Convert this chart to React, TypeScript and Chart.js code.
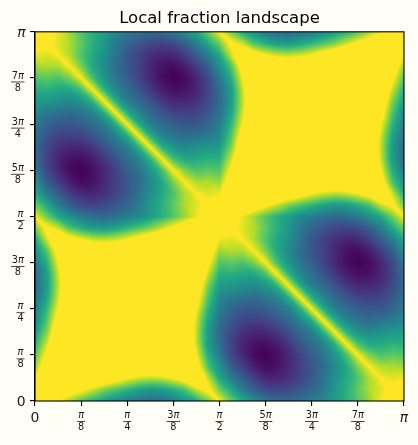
import React, { useEffect, useRef } from "react";
import { Chart, registerables } from "chart.js";

Chart.register(...registerables);

const PI = Math.PI;
const tickFractions = [
  ["0", ""], ["π", "8"], ["π", "4"], ["3π", "8"], ["π", "2"],
  ["5π", "8"], ["3π", "4"], ["7π", "8"], ["π", ""],
];
const tickValues = [0, PI / 8, PI / 4, (3 * PI) / 8, PI / 2, (5 * PI) / 8, (3 * PI) / 4, (7 * PI) / 8, PI];

// estimated values, rows run upward from y = 0 to y = pi/2, columns x = 0 to pi/2 (step pi/32).
// Anything at 1 or above shows as the top colour; larger numbers mean further inside the flat yellow area.
const lowerLeftRows = [
  [1.2, 1.1, .97, .85, .73, .63, .55, .47, .42, .37, .34, .36, .41, .50, .60, .78, 1],
  [1.1, 1.3, 1.3, 1.15, 1.04, .92, .80, .72, .65, .58, .54, .55, .62, .72, .92, 1.05, .78],
  [.97, 1.3, 1.6, 1.55, 1.44, 1.32, 1.2, 1.1, 1.0, .93, .90, .92, 1.0, 1.1, 1.2, .92, .60],
  [.85, 1.15, 1.55, 1.9, 1.85, 1.75, 1.65, 1.5, 1.4, 1.33, 1.3, 1.32, 1.4, 1.5, 1.1, .72, .50],
  [.73, 1.04, 1.44, 1.85, 2, 2, 2, 2, 2, 2, 2, 2, 2, 1.4, 1.0, .62, .41],
  [.63, .92, 1.32, 1.75, 2, 2, 2, 2, 2, 2, 2, 2, 2, 1.32, .92, .55, .36],
  [.55, .80, 1.2, 1.65, 2, 2, 2, 2, 2, 2, 2, 2, 2, 1.3, .90, .54, .34],
  [.47, .72, 1.1, 1.5, 2, 2, 2, 2, 2, 2, 2, 2, 2, 1.33, .93, .58, .37],
  [.42, .65, 1.0, 1.4, 2, 2, 2, 2, 2, 2, 2, 2, 2, 1.4, 1.0, .65, .42],
  [.37, .58, .93, 1.33, 2, 2, 2, 2, 2, 2, 2, 2, 2, 1.5, 1.1, .72, .47],
  [.34, .54, .90, 1.3, 2, 2, 2, 2, 2, 2, 2, 2, 2, 1.65, 1.2, .80, .55],
  [.36, .55, .92, 1.32, 2, 2, 2, 2, 2, 2, 2, 2, 2, 1.75, 1.32, .92, .63],
  [.41, .62, 1.0, 1.4, 2, 2, 2, 2, 2, 2, 2, 2, 2, 1.85, 1.44, 1.04, .73],
  [.50, .72, 1.1, 1.5, 1.4, 1.32, 1.3, 1.33, 1.4, 1.5, 1.65, 1.75, 1.85, 1.9, 1.55, 1.15, .85],
  [.60, .92, 1.2, 1.1, 1.0, .92, .90, .93, 1.0, 1.1, 1.2, 1.32, 1.44, 1.55, 1.6, 1.3, .97],
  [.78, 1.05, .92, .72, .62, .55, .54, .58, .65, .72, .80, .92, 1.04, 1.15, 1.3, 1.3, 1.1],
  [1, .78, .60, .50, .41, .36, .34, .37, .42, .47, .55, .63, .73, .85, .97, 1.1, 1.2],
];

// estimated values, rows run upward from y = pi/2 to y = pi, columns x = 0 to pi/2
const upperLeftRows = [
  [1, .78, .60, .50, .41, .36, .34, .37, .42, .47, .55, .63, .73, .85, .97, 1.1, 1.2],
  [.78, .60, .42, .30, .22, .20, .22, .27, .33, .41, .53, .63, .75, .88, .95, 1.05, 1.1],
  [.60, .42, .30, .18, .11, .10, .14, .20, .27, .38, .50, .60, .72, .88, 1, .95, .97],
  [.50, .30, .18, .08, .03, .05, .11, .19, .27, .35, .47, .60, .80, 1, .88, .88, .85],
  [.41, .22, .11, .03, 0, .04, .11, .20, .30, .39, .52, .70, 1, .80, .72, .75, .73],
  [.36, .20, .10, .05, .04, .08, .16, .26, .36, .45, .65, 1, .70, .60, .60, .63, .63],
  [.34, .22, .14, .11, .11, .16, .25, .34, .43, .63, 1, .65, .52, .47, .50, .53, .55],
  [.37, .27, .20, .19, .20, .26, .34, .45, .62, 1, .63, .45, .39, .35, .38, .41, .47],
  [.42, .33, .27, .27, .30, .36, .43, .62, 1, .62, .43, .36, .30, .27, .27, .33, .42],
  [.47, .41, .38, .35, .39, .45, .63, 1, .62, .45, .34, .26, .20, .19, .20, .27, .37],
  [.55, .53, .50, .47, .52, .65, 1, .63, .43, .34, .25, .16, .11, .11, .14, .22, .34],
  [.63, .63, .60, .60, .70, 1, .65, .45, .36, .26, .16, .08, .04, .05, .10, .20, .36],
  [.73, .75, .72, .80, 1, .70, .52, .39, .30, .20, .11, .04, 0, .03, .11, .22, .41],
  [.85, .88, .88, 1, .80, .60, .47, .35, .27, .19, .11, .05, .03, .08, .18, .30, .50],
  [.97, .95, 1, .88, .72, .60, .50, .38, .27, .20, .14, .10, .11, .18, .30, .42, .60],
  [1.1, 1.05, .95, .88, .75, .63, .53, .41, .33, .27, .22, .20, .22, .30, .42, .60, .78],
  [1.2, 1.1, .97, .85, .73, .63, .55, .47, .42, .37, .34, .36, .41, .50, .60, .78, 1],
];

const viridisStops = [
  [68, 1, 84], [72, 36, 117], [65, 68, 135], [53, 95, 141], [42, 120, 142], [33, 145, 140],
  [34, 168, 132], [68, 191, 112], [122, 209, 81], [189, 223, 38], [253, 231, 37],
];

const NODES = 33;
const nodeValue = (i: number, j: number): number => {
  if (i <= 16) return j <= 16 ? lowerLeftRows[j][i] : upperLeftRows[j - 16][i];
  return j <= 16 ? upperLeftRows[j][i - 16] : lowerLeftRows[j - 16][i - 16];
};
const nodes: { x: number; y: number; v: number }[] = [];
for (let j = 0; j < NODES; j++) {
  for (let i = 0; i < NODES; i++) {
    nodes.push({ x: (i * PI) / 32, y: (j * PI) / 32, v: nodeValue(i, j) });
  }
}

const colour = (v: number): number[] => {
  const t = Math.max(0, Math.min(1, v)) * 10;
  const k = Math.min(9, Math.floor(t));
  const f = t - k;
  return viridisStops[k].map((c, n) => c + (viridisStops[k + 1][n] - c) * f);
};

const heatPlugin = {
  id: "heat",
  beforeDatasetsDraw(chart: any) {
    const { ctx, chartArea: a, scales } = chart;
    const data = chart.data.datasets[0].data;
    const w = Math.round(a.right - a.left);
    const h = Math.round(a.bottom - a.top);
    const off = document.createElement("canvas");
    off.width = w;
    off.height = h;
    const oc = off.getContext("2d") as CanvasRenderingContext2D;
    const img = oc.createImageData(w, h);
    const step = PI / 32;
    for (let py = 0; py < h; py++) {
      const gy = scales.y.getValueForPixel(a.top + py + 0.5) / step;
      const j = Math.max(0, Math.min(NODES - 2, Math.floor(gy)));
      const fy = gy - j;
      for (let px = 0; px < w; px++) {
        const gx = scales.x.getValueForPixel(a.left + px + 0.5) / step;
        const i = Math.max(0, Math.min(NODES - 2, Math.floor(gx)));
        const fx = gx - i;
        const z00 = data[j * NODES + i].v;
        const z10 = data[j * NODES + i + 1].v;
        const z01 = data[(j + 1) * NODES + i].v;
        const z11 = data[(j + 1) * NODES + i + 1].v;
        const v = fx + fy < 1
          ? z00 + fx * (z10 - z00) + fy * (z01 - z00)
          : z11 + (1 - fx) * (z01 - z11) + (1 - fy) * (z10 - z11);
        const c = colour(v);
        const o = (py * w + px) * 4;
        img.data[o] = c[0];
        img.data[o + 1] = c[1];
        img.data[o + 2] = c[2];
        img.data[o + 3] = 255;
      }
    }
    oc.putImageData(img, 0, 0);
    ctx.drawImage(off, a.left, a.top, a.right - a.left, a.bottom - a.top);
  },
  afterDraw(chart: any) {
    const { ctx, chartArea: a, scales } = chart;
    ctx.save();
    ctx.strokeStyle = "#000";
    ctx.lineWidth = 1.1;
    ctx.strokeRect(a.left, a.top, a.right - a.left, a.bottom - a.top);
    ctx.fillStyle = "#1a1a1a";
    ctx.textBaseline = "middle";
    const big = "13.9px 'DejaVu Sans'";
    const bigItalic = "italic 13.9px 'DejaVu Sans'";
    const small = "9.8px 'DejaVu Sans'";
    const drawNum = (text: string, x: number, y: number) => {
      const plain = text.replace("π", "");
      ctx.font = small;
      const wa = ctx.measureText(plain).width;
      ctx.font = "italic 9.8px 'DejaVu Sans'";
      const wb = text.includes("π") ? ctx.measureText("π").width : 0;
      let sx = x - (wa + wb) / 2;
      ctx.textAlign = "left";
      ctx.font = small;
      if (plain) ctx.fillText(plain, sx, y);
      sx += wa;
      if (wb) {
        ctx.font = "italic 9.8px 'DejaVu Sans'";
        ctx.fillText("π", sx, y);
      }
    };
    tickFractions.forEach(([top, bottom], n) => {
      const px = scales.x.getPixelForValue(tickValues[n]);
      const py = scales.y.getPixelForValue(tickValues[n]);
      if (!bottom) {
        ctx.textAlign = "center";
        ctx.font = top === "π" ? bigItalic : big;
        ctx.fillText(top, px, 418);
        ctx.textAlign = "right";
        ctx.fillText(top, 25.5, py + (top === "π" ? 2 : 1));
        return;
      }
      ctx.font = small;
      const barW = top.length > 1 ? 13.5 : 8;
      drawNum(top, px, 415.5);
      ctx.textAlign = "center";
      ctx.font = small;
      ctx.fillText(bottom, px, 427.5);
      ctx.fillRect(px - barW / 2, 421, barW, 0.8);
      const cx = 24.5 - barW / 2;
      drawNum(top, cx, py - 2);
      ctx.textAlign = "center";
      ctx.font = small;
      ctx.fillText(bottom, cx, py + 10);
      ctx.fillRect(24.5 - barW, py + 3.6, barW, 0.8);
    });
    ctx.restore();
  },
};

const PAGE_BG = "#fffff8";

export default function App() {
  const ref = useRef<HTMLCanvasElement | null>(null);
  useEffect(() => {
    document.body.style.margin = "0";
    document.body.style.background = PAGE_BG;
    const chart = new Chart(ref.current as HTMLCanvasElement, {
      type: "scatter",
      data: { datasets: [{ data: nodes, pointRadius: 0, showLine: false }] },
      options: {
        responsive: false,
        animation: false,
        devicePixelRatio: 1,
        layout: { padding: { left: 0, right: 14, top: 0, bottom: 0 } },
        plugins: {
          legend: { display: false },
          tooltip: { enabled: false },
          title: {
            display: true,
            text: "Local fraction landscape",
            color: "#000",
            fullSize: false,
            font: { family: "'DejaVu Sans'", size: 16.5, weight: "normal" },
            padding: { top: 9, bottom: 3 },
          },
        },
        scales: {
          x: {
            type: "linear",
            min: 0,
            max: PI,
            afterBuildTicks: (s: any) => { s.ticks = tickValues.map((value) => ({ value })); },
            afterFit: (s: any) => { s.height = 44; },
            ticks: { callback: () => "", autoSkip: false, maxRotation: 0 },
            grid: { drawOnChartArea: false, drawTicks: true, tickLength: 5, color: "#000", lineWidth: 1.1 },
            border: { color: "#000", width: 1.1 },
          },
          y: {
            type: "linear",
            min: 0,
            max: PI,
            afterBuildTicks: (s: any) => { s.ticks = tickValues.map((value) => ({ value })); },
            afterFit: (s: any) => { s.width = 35; },
            ticks: { callback: () => "", autoSkip: false },
            grid: { drawOnChartArea: false, drawTicks: true, tickLength: 5, color: "#000", lineWidth: 1.1 },
            border: { color: "#000", width: 1.1 },
          },
        },
      } as any,
      plugins: [heatPlugin],
    } as any);
    return () => chart.destroy();
  }, []);
  return (
    <canvas
      ref={ref}
      width={418}
      height={445}
      style={{ display: "block", background: PAGE_BG, width: 418, height: 445 }}
    />
  );
}
